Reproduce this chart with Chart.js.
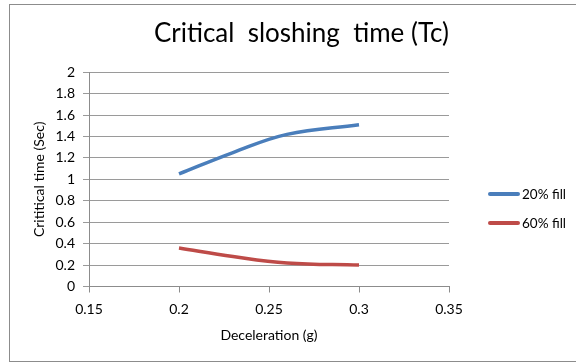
<!DOCTYPE html>
<html>
<head>
<meta charset="utf-8">
<script src="https://cdn.jsdelivr.net/npm/chart.js@4/dist/chart.umd.min.js"></script>
<style>
  html, body { margin: 0; padding: 0; background: #fff; }
  #wrap { position: relative; width: 576px; height: 363px; overflow: hidden; font-family: Lato, 'Open Sans', sans-serif; }
  #frame { position: absolute; left: 9px; top: 4px; width: 600px; height: 358px; border: 1px solid #8c8c8c; box-sizing: border-box; }
  canvas { position: absolute; left: 0; top: 0; }
  #legend { position: absolute; left: 488px; top: 185px; }
  #legend .item { display: flex; align-items: center; height: 18px; margin-bottom: 11px; font-size: 13.5px; color: #000; }
  #legend .swatch { width: 32px; height: 4px; border-radius: 2px; margin-right: 2px; }
</style>
</head>
<body>
<div id="wrap">
  <div id="frame"></div>
  <canvas id="chart" width="576" height="363"></canvas>
  <div id="legend"></div>
</div>
<script>
const xValues = [0.2, 0.23, 0.26, 0.3];
const fill20 = [1.05, 1.25, 1.42, 1.51];
const fill60 = [0.36, 0.28, 0.22, 0.2];
const seriesNames = ['20% fill', '60% fill'];
const seriesColors = ['#4a7ebb', '#be4b48'];

const font = 'Lato, Open Sans, sans-serif';
const toPoints = (ys) => xValues.map((x, i) => ({ x, y: ys[i] }));
const fmt = (v) => String(Number(v.toFixed(2)));

const chart = new Chart(document.getElementById('chart'), {
  type: 'line',
  data: {
    datasets: [
      { label: seriesNames[0], data: toPoints(fill20), borderColor: seriesColors[0], borderWidth: 3.5, pointRadius: 0, tension: 0.4 },
      { label: seriesNames[1], data: toPoints(fill60), borderColor: seriesColors[1], borderWidth: 3.5, pointRadius: 0, tension: 0.4 },
    ],
  },
  options: {
    responsive: false,
    animation: false,
    layout: { padding: { left: 0, right: 127, top: 6, bottom: 0 } },
    plugins: {
      title: {
        display: true,
        align: 'end',
        text: 'Critical  sloshing  time (Tc)',
        color: '#000',
        font: { family: font, size: 26, weight: 'normal' },
        padding: { top: 12, bottom: 23 },
      },
      legend: { display: false },
      tooltip: { enabled: false },
    },
    scales: {
      x: {
        type: 'linear',
        min: 0.15,
        max: 0.35,
        afterFit: (scale) => { scale.height = 76.5; },
        ticks: { stepSize: 0.05, color: '#000', font: { family: font, size: 14 }, padding: 9, callback: fmt },
        grid: { drawOnChartArea: false, color: '#8c8c8c', tickLength: 6 },
        border: { color: '#8c8c8c' },
        title: { display: true, text: 'Deceleration (g)', color: '#000', font: { family: font, size: 14 }, padding: { top: 0, bottom: 19 } },
      },
      y: {
        min: 0,
        max: 2,
        afterFit: (scale) => { scale.width = 89; },
        ticks: { stepSize: 0.2, color: '#000', font: { family: font, size: 14 }, padding: 8, callback: fmt },
        grid: { color: '#9a9a9a', tickLength: 6 },
        border: { color: '#8c8c8c' },
        title: { display: true, text: 'Crititical time (Sec)', color: '#000', font: { family: font, size: 14 }, padding: { top: 31, bottom: 0 } },
      },
    },
  },
});

// legend as plain DOM, placed to the right of the plot
document.getElementById('legend').innerHTML = chart.data.datasets.map((ds) => `
  <div class="item"><span class="swatch" style="background:${ds.borderColor}"></span>${ds.label}</div>
`).join('');
</script>
</body>
</html>
